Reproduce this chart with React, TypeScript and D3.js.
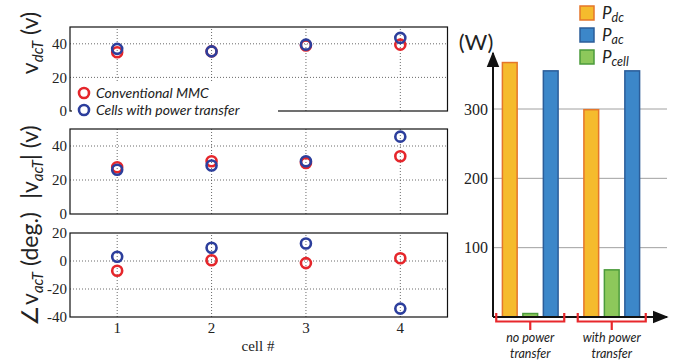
import { useEffect, useRef } from 'react'
import * as d3 from 'd3'

// left panels: per-cell values
const cells = [1, 2, 3, 4]
const vdcConventional = [35, 35.5, 39, 39.5]
const vdcTransfer = [37, 35.5, 39.5, 43.5]
const vacConventional = [27.5, 31, 30, 34]
const vacTransfer = [26, 28.5, 31, 45.5]
const angConventional = [-7, 0.5, -1.5, 2]
const angTransfer = [3, 9.5, 12.5, -34]
const magTicks = [0, 20, 40]
const angTicks = [-40, -20, 0, 20]

// right panel: power bars
const groups = ['no power transfer', 'with power transfer']
const powerKeys = ['dc', 'cell', 'ac']
const pDc = [367, 299]
const pCell = [5, 68]
const pAc = [355, 355]
const powerTicks = [100, 200, 300]

const RED = '#e5262b'
const BLUE = '#2c3e9c'
const SANS = 'Lato, "Open Sans", sans-serif'
const SERIF = '"Liberation Serif", "DejaVu Serif", serif'

const barStyle: Record<string, { fill: string; stroke: string }> = {
  dc: { fill: '#f5bb2d', stroke: '#e5762a' },
  ac: { fill: '#3c87c9', stroke: '#2b5d99' },
  cell: { fill: '#8dc85b', stroke: '#4b9b3b' }
}

export default function App() {
  const svgRef = useRef<SVGSVGElement>(null)

  useEffect(() => {
    if (!svgRef.current) return
    const svg = d3.select(svgRef.current)
    svg.selectAll('*').remove()

    const x = d3.scaleLinear().domain([0.5, 4.5]).range([70, 447.5])

    const panels = [
      { range: [111, 27], domain: [0, 50], ticks: magTicks, red: vdcConventional, blue: vdcTransfer,
        label: ['v', 'dcT', ' (v)'], labelY: 43 },
      { range: [214, 129], domain: [0, 50], ticks: magTicks, red: vacConventional, blue: vacTransfer,
        label: ['|v', 'acT', '| (v)'], labelY: 162 },
      { range: [317, 233], domain: [-40, 20], ticks: angTicks, red: angConventional, blue: angTransfer,
        label: ['\u2220v', 'acT', ' (deg.)'], labelY: 269 }
    ]

    panels.forEach((p, pi) => {
      const y = d3.scaleLinear().domain(p.domain).range(p.range)
      const g = svg.append('g')
      const [x0, x1] = x.range()
      const [y0, y1] = y.range()

      // dotted grid
      g.selectAll('.hgrid')
        .data(p.ticks.filter(t => t > p.domain[0] && t < p.domain[1]))
        .enter()
        .append('line')
        .attr('x1', x0).attr('x2', x1)
        .attr('y1', d => y(d)).attr('y2', d => y(d))
        .attr('stroke', '#444').attr('stroke-width', 0.8).attr('stroke-dasharray', '1,2')
      g.selectAll('.vgrid')
        .data(cells)
        .enter()
        .append('line')
        .attr('x1', d => x(d)).attr('x2', d => x(d))
        .attr('y1', y0).attr('y2', y1)
        .attr('stroke', '#444').attr('stroke-width', 0.8).attr('stroke-dasharray', '1,2')

      // frame
      g.append('rect')
        .attr('x', x0).attr('y', y1)
        .attr('width', x1 - x0).attr('height', y0 - y1)
        .attr('fill', 'none').attr('stroke', '#111').attr('stroke-width', 1.2)

      // y tick labels
      g.selectAll('.ytick')
        .data(p.ticks)
        .enter()
        .append('text')
        .attr('x', x0 - 3)
        .attr('y', d => y(d))
        .attr('dy', '0.35em')
        .attr('text-anchor', 'end')
        .attr('font-family', SERIF)
        .attr('font-size', 15)
        .attr('fill', '#222')
        .text(d => d)

      // y label (rotated)
      const lab = g.append('text')
        .attr('transform', `translate(38,${p.labelY}) rotate(-90)`)
        .attr('text-anchor', 'middle')
        .attr('font-family', SANS)
        .attr('font-size', 23)
        .attr('fill', '#222')
      lab.append('tspan').text(p.label[0])
      lab.append('tspan').attr('font-size', 15).attr('font-style', 'italic').attr('dy', 5).text(p.label[1])
      lab.append('tspan').attr('dy', -5).text(p.label[2])

      // markers: conventional first, transfer on top
      const series = [
        { vals: p.red, color: RED },
        { vals: p.blue, color: BLUE }
      ]
      series.forEach(s => {
        g.selectAll(null)
          .data(cells)
          .enter()
          .append('circle')
          .attr('cx', d => x(d))
          .attr('cy', (d, i) => y(s.vals[i]))
          .attr('r', 5)
          .attr('fill', 'none')
          .attr('stroke', s.color)
          .attr('stroke-width', 2.6)
      })

      if (pi === 0) {
        // legend box covering the lower-left corner
        const lg = g.append('g')
        lg.append('rect')
          .attr('x', 72).attr('y', 83).attr('width', 206).attr('height', 36)
          .attr('fill', '#fff')
        const items = [
          { text: 'Conventional MMC', color: RED },
          { text: 'Cells with power transfer', color: BLUE }
        ]
        items.forEach((it, i) => {
          lg.append('circle')
            .attr('cx', 84).attr('cy', 93 + i * 17).attr('r', 5)
            .attr('fill', 'none').attr('stroke', it.color).attr('stroke-width', 2.6)
          lg.append('text')
            .attr('x', 96).attr('y', 93 + i * 17).attr('dy', '0.35em')
            .attr('font-family', SANS).attr('font-style', 'italic').attr('font-size', 14)
            .attr('fill', '#222')
            .text(it.text)
        })
      }

      if (pi === 2) {
        g.selectAll('.xtick')
          .data(cells)
          .enter()
          .append('text')
          .attr('x', d => x(d))
          .attr('y', 333)
          .attr('text-anchor', 'middle')
          .attr('font-family', SERIF)
          .attr('font-size', 15)
          .attr('fill', '#222')
          .text(d => d)
        g.append('text')
          .attr('x', 258).attr('y', 351)
          .attr('text-anchor', 'middle')
          .attr('font-family', SERIF)
          .attr('font-size', 15)
          .attr('fill', '#222')
          .text('cell #')
      }
    })

    // ---- right bar chart ----
    const yP = d3.scaleLinear().domain([0, 300]).range([317, 109])
    const axisX0 = 493
    const axisX1 = 667
    const xG = d3.scaleBand().domain(groups).range([489.5, 652.5]).padding(0)
    const xK = d3.scaleBand().domain(powerKeys).range([0, xG.bandwidth()])
      .paddingInner(0.28).paddingOuter(0.63)
    const values: Record<string, number[]> = { dc: pDc, cell: pCell, ac: pAc }

    const r = svg.append('g')
    r.selectAll('.pgrid')
      .data(powerTicks)
      .enter()
      .append('line')
      .attr('x1', axisX0).attr('x2', axisX1)
      .attr('y1', d => yP(d)).attr('y2', d => yP(d))
      .attr('stroke', '#a0a0a0').attr('stroke-width', 1)
    r.selectAll('.ptick')
      .data(powerTicks)
      .enter()
      .append('text')
      .attr('x', 488)
      .attr('y', d => yP(d))
      .attr('dy', '0.35em')
      .attr('text-anchor', 'end')
      .attr('font-family', SERIF)
      .attr('font-size', 16)
      .attr('fill', '#222')
      .text(d => d)

    groups.forEach((grp, gi) => {
      r.selectAll(null)
        .data(powerKeys)
        .enter()
        .append('rect')
        .attr('x', k => xG(grp)! + xK(k)!)
        .attr('y', k => yP(values[k][gi]))
        .attr('width', xK.bandwidth())
        .attr('height', k => yP(0) - yP(values[k][gi]))
        .attr('fill', k => barStyle[k].fill)
        .attr('stroke', k => barStyle[k].stroke)
        .attr('stroke-width', 1.5)
    })

    // axes with arrows
    const defs = svg.append('defs')
    defs.append('marker')
      .attr('id', 'arrow')
      .attr('viewBox', '0 0 10 10')
      .attr('refX', 9).attr('refY', 5)
      .attr('markerWidth', 8).attr('markerHeight', 8)
      .attr('orient', 'auto')
      .append('path').attr('d', 'M0,1 L10,5 L0,9 Z').attr('fill', '#111')
    r.append('line')
      .attr('x1', axisX0).attr('x2', axisX0)
      .attr('y1', yP(0)).attr('y2', 53)
      .attr('stroke', '#111').attr('stroke-width', 2)
      .attr('marker-end', 'url(#arrow)')
    r.append('line')
      .attr('x1', axisX0).attr('x2', axisX1)
      .attr('y1', yP(0)).attr('y2', yP(0))
      .attr('stroke', '#111').attr('stroke-width', 2)
      .attr('marker-end', 'url(#arrow)')

    r.append('text')
      .attr('x', 476).attr('y', 42).attr('dy', '0.35em')
      .attr('text-anchor', 'middle')
      .attr('font-family', SANS).attr('font-size', 22)
      .attr('fill', '#222')
      .text('(W)')

    // brackets and group labels
    groups.forEach(grp => {
      const cx = xG(grp)! + xG.bandwidth() / 2
      const half = 34
      r.append('path')
        .attr('d', `M${cx - half},313 V321.5 H${cx + half} V313 M${cx},321.5 V330`)
        .attr('fill', 'none').attr('stroke', '#e8282c').attr('stroke-width', 2.2)
      const words = grp === groups[0] ? ['no power', 'transfer'] : ['with power', 'transfer']
      words.forEach((w, i) => {
        r.append('text')
          .attr('x', cx).attr('y', 338 + i * 15.5).attr('dy', '0.33em')
          .attr('text-anchor', 'middle')
          .attr('font-family', SANS).attr('font-style', 'italic').attr('font-size', 12.5)
          .attr('fill', '#222')
          .text(w)
      })
    })

    // legend
    const legendItems = [
      { key: 'dc', sub: 'dc' },
      { key: 'ac', sub: 'ac' },
      { key: 'cell', sub: 'cell' }
    ]
    legendItems.forEach((it, i) => {
      const ly = 6 + i * 22
      r.append('rect')
        .attr('x', 580).attr('y', ly).attr('width', 14).attr('height', 14)
        .attr('fill', barStyle[it.key].fill)
        .attr('stroke', barStyle[it.key].stroke).attr('stroke-width', 1.5)
      const t = r.append('text')
        .attr('x', 602).attr('y', ly + 13)
        .attr('font-family', SANS).attr('font-style', 'italic').attr('font-size', 17)
        .attr('fill', '#222')
      t.append('tspan').text('P')
      t.append('tspan').attr('font-size', 12.5).attr('dy', 2.5).text(it.sub)
    })
  }, [])

  return (
    <svg
      ref={svgRef}
      width={677}
      height={360}
      style={{ position: 'absolute', left: 0, top: 0, background: '#fff' }}
    />
  )
}
